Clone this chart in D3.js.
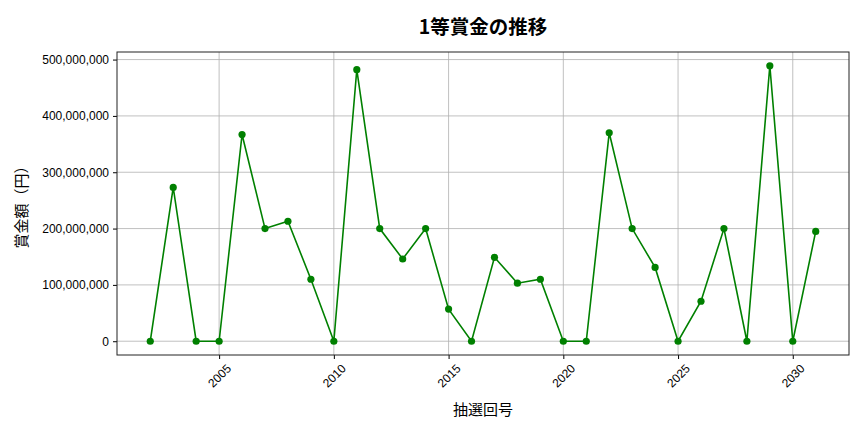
<!DOCTYPE html>
<html>
<head>
<meta charset="utf-8">
<script src="https://cdn.jsdelivr.net/npm/d3@7"></script>
<style>
  body { margin: 0; background: #fff; }
  svg { font-family: "Noto Sans CJK JP", "Noto Sans", sans-serif; }
</style>
</head>
<body>
<svg id="chart" width="864" height="432"></svg>
<script>
// 抽選回号 (x) and 1等賞金 (y)
const rounds = [2002, 2003, 2004, 2005, 2006, 2007, 2008, 2009, 2010, 2011,
                2012, 2013, 2014, 2015, 2016, 2017, 2018, 2019, 2020, 2021,
                2022, 2023, 2024, 2025, 2026, 2027, 2028, 2029, 2030, 2031];
const prizes = [0, 273000000, 0, 0, 367000000, 200000000, 213000000, 110000000, 0, 482000000,
                200000000, 146000000, 200000000, 57000000, 0, 149000000, 103000000, 110000000, 0, 0,
                370000000, 200000000, 131000000, 0, 71000000, 200000000, 0, 489000000, 0, 195000000];
const xTicks = [2005, 2010, 2015, 2020, 2025, 2030];
const yTicks = [0, 100000000, 200000000, 300000000, 400000000, 500000000];

const titleText = "1等賞金の推移";
const xLabel = "抽選回号";
const yLabel = "賞金額（円）";

const margin = {top: 52, right: 15, bottom: 77, left: 117},
      width = 864 - margin.left - margin.right,
      height = 432 - margin.top - margin.bottom;

const svg = d3.select("#chart");
const g = svg.append("g")
    .attr("transform", `translate(${margin.left},${margin.top})`);

// matplotlib style 5% padding
const xExt = d3.extent(rounds), xPad = (xExt[1] - xExt[0]) * 0.05;
const yExt = d3.extent(prizes), yPad = (yExt[1] - yExt[0]) * 0.05;

const x = d3.scaleLinear()
    .domain([xExt[0] - xPad, xExt[1] + xPad])
    .range([0, width]);

const y = d3.scaleLinear()
    .domain([yExt[0] - yPad, yExt[1] + yPad])
    .range([height, 0]);

// grid
g.append("g").selectAll("line").data(xTicks).join("line")
    .attr("x1", d => x(d)).attr("x2", d => x(d))
    .attr("y1", 0).attr("y2", height)
    .attr("stroke", "#b0b0b0").attr("stroke-width", 0.8);
g.append("g").selectAll("line").data(yTicks).join("line")
    .attr("x1", 0).attr("x2", width)
    .attr("y1", d => y(d)).attr("y2", d => y(d))
    .attr("stroke", "#b0b0b0").attr("stroke-width", 0.8);

// X axis
const xAxis = g.append("g")
    .attr("transform", `translate(0,${height})`)
    .call(d3.axisBottom(x).tickValues(xTicks).tickFormat(d3.format("d")).tickSize(4).tickPadding(3));
xAxis.select(".domain").remove();
xAxis.selectAll("text")
    .attr("font-size", 12)
    .attr("fill", "#000")
    .attr("y", 0).attr("dy", null)
    .attr("text-anchor", "middle")
    .attr("dominant-baseline", "central")
    .attr("transform", "translate(0,21) rotate(-45)");

// Y axis
const yAxis = g.append("g")
    .call(d3.axisLeft(y).tickValues(yTicks).tickFormat(d3.format(",")).tickSize(4).tickPadding(4));
yAxis.select(".domain").remove();
yAxis.selectAll("text").attr("font-size", 12).attr("fill", "#000");

// frame
g.append("rect")
    .attr("width", width).attr("height", height)
    .attr("fill", "none").attr("stroke", "#222").attr("stroke-width", 1);

// line + markers
const line = d3.line()
    .x((d, i) => x(rounds[i]))
    .y(d => y(d));

g.append("path")
    .datum(prizes)
    .attr("fill", "none")
    .attr("stroke", "green")
    .attr("stroke-width", 1.6)
    .attr("d", line);

g.selectAll("circle.pt").data(prizes).join("circle")
    .attr("class", "pt")
    .attr("cx", (d, i) => x(rounds[i]))
    .attr("cy", d => y(d))
    .attr("r", 3.6)
    .attr("fill", "green");

// title and labels
svg.append("text")
    .attr("x", margin.left + width / 2).attr("y", 25)
    .attr("text-anchor", "middle").attr("dominant-baseline", "central")
    .attr("font-size", 19.5).attr("font-weight", "bold")
    .text(titleText);

svg.append("text")
    .attr("x", margin.left + width / 2).attr("y", 408)
    .attr("text-anchor", "middle").attr("dominant-baseline", "central")
    .attr("font-size", 15)
    .text(xLabel);

svg.append("text")
    .attr("transform", `translate(20,${margin.top + height / 2}) rotate(-90)`)
    .attr("text-anchor", "middle").attr("dominant-baseline", "central")
    .attr("font-size", 15)
    .text(yLabel);
</script>
</body>
</html>
